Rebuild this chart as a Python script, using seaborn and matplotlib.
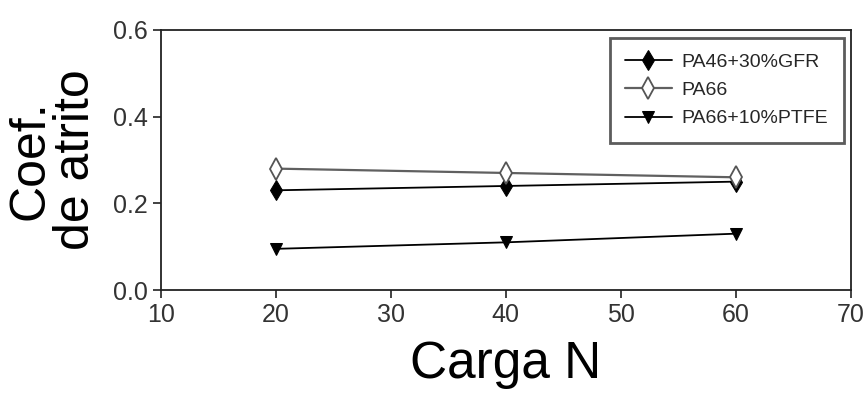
import matplotlib
matplotlib.use("Agg")
import matplotlib.pyplot as plt
import seaborn as sns
import pandas as pd

carga = [20, 40, 60]
pa46_gfr = [0.23, 0.24, 0.25]
pa66 = [0.28, 0.27, 0.26]
pa66_ptfe = [0.095, 0.11, 0.13]
labels = ["PA46+30%GFR", "PA66", "PA66+10%PTFE"]

sns.set_style("ticks")
plt.rcParams['font.family'] = ["Liberation Sans", "DejaVu Sans"]

df = pd.DataFrame({
    "Carga": carga * 3,
    "Coef": pa46_gfr + pa66 + pa66_ptfe,
    "Serie": [labels[0]] * 3 + [labels[1]] * 3 + [labels[2]] * 3,
})

fig = plt.figure(figsize=(8.64, 3.93), dpi=100)
ax = fig.add_axes([0.186, 0.262, 0.799, 0.662])

styles = {
    labels[0]: dict(color="black", marker="d", mfc="black", mec="black", ms=10, lw=1.3),
    labels[1]: dict(color="#606060", marker="d", mfc="white", mec="#555555", ms=11, mew=1.3, lw=1.6),
    labels[2]: dict(color="black", marker="v", mfc="black", mec="black", ms=8, lw=1.3),
}
for lab in labels:
    sub = df[df["Serie"] == lab]
    sns.lineplot(data=sub, x="Carga", y="Coef", ax=ax, label=lab, **styles[lab])

ax.set_xlim(10, 70)
ax.set_ylim(0, 0.6)
ax.set_xticks([10, 20, 30, 40, 50, 60, 70])
ax.set_yticks([0.0, 0.2, 0.4, 0.6])
ax.set_yticklabels(["0.0", "0.2", "0.4", "0.6"])
ax.tick_params(axis="both", labelsize=18, length=6, width=1.2, direction="out",
               colors="#222222", labelcolor="#333333", pad=3)
for s in ax.spines.values():
    s.set_linewidth(1.3)
    s.set_color("#222222")

ax.set_xlabel("Carga N", fontsize=37, labelpad=10, color="black")
ax.set_ylabel("Coef.\nde atrito", fontsize=36, labelpad=10, color="black", linespacing=1.0)

leg = ax.legend(loc="upper right", fontsize=14, frameon=True, fancybox=False,
                edgecolor="#333333", handlelength=2.4, handletextpad=0.5, borderpad=0.8,
                labelspacing=0.55, bbox_to_anchor=(0.995, 0.985), borderaxespad=0.2)
leg.get_frame().set_linewidth(2.0)

fig.savefig("out.png", dpi=100)
